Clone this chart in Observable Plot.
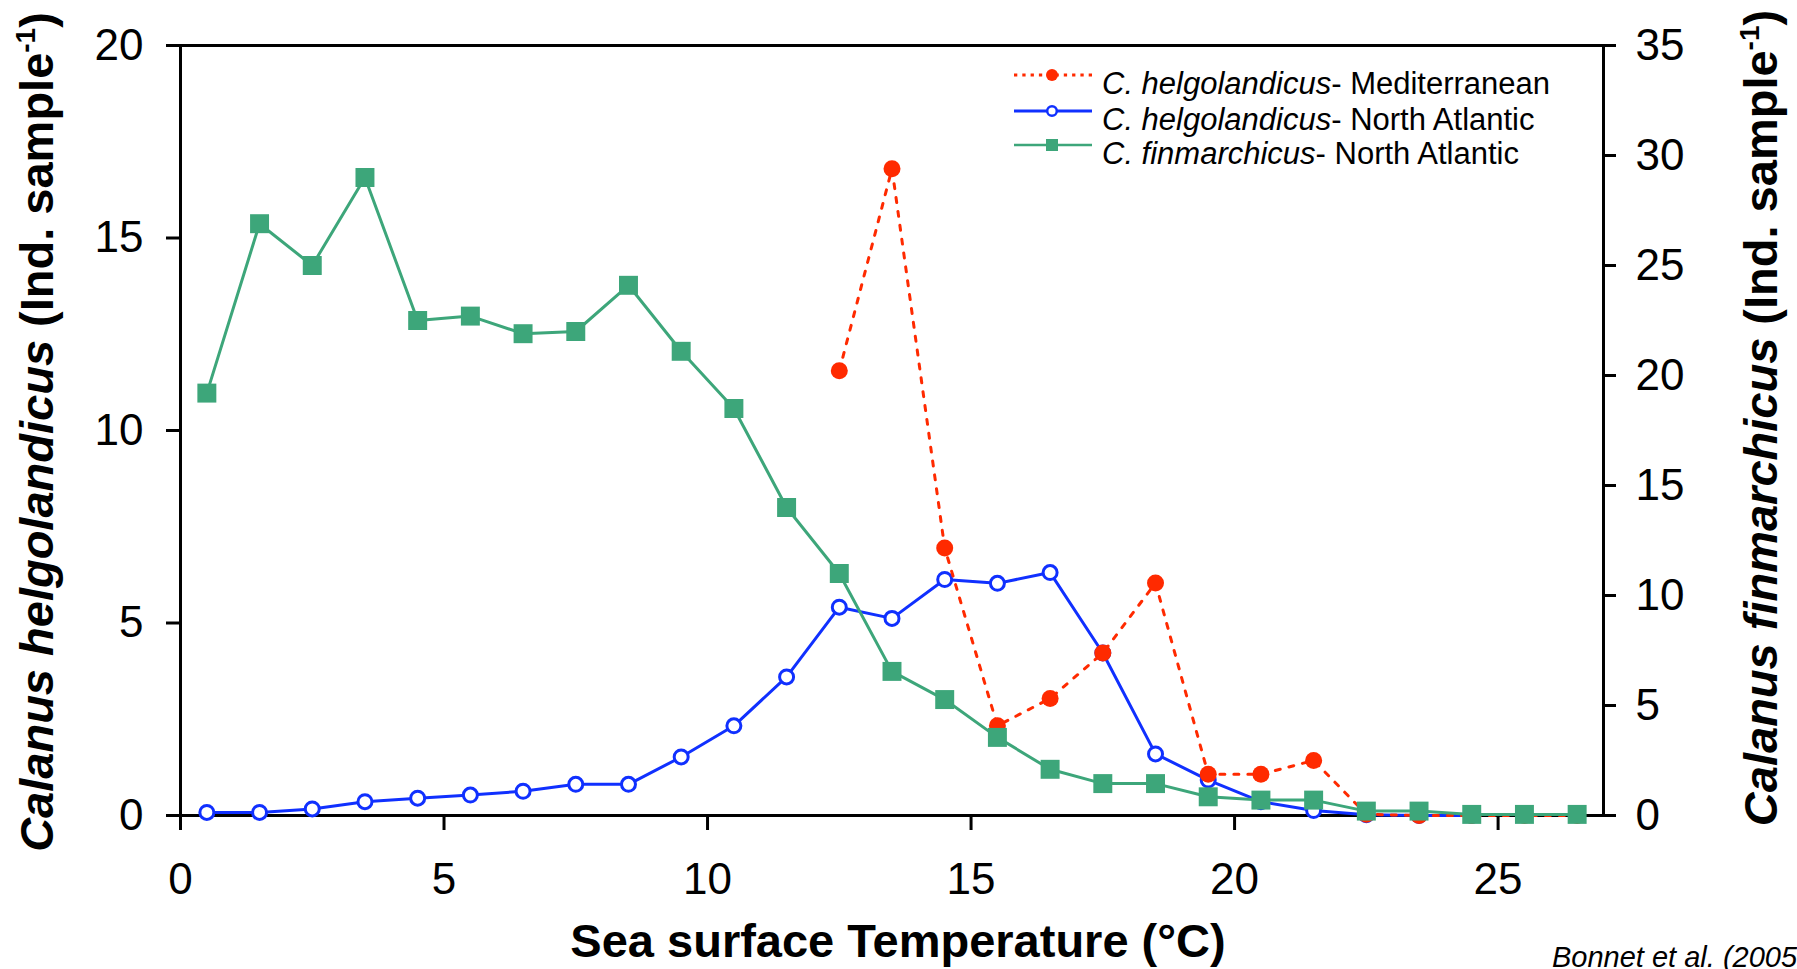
<!DOCTYPE html>
<html>
<head>
<meta charset="utf-8">
<script src="https://cdn.jsdelivr.net/npm/d3@7"></script>
<script src="https://cdn.jsdelivr.net/npm/@observablehq/plot@0.6"></script>
<style>
  html, body { margin: 0; padding: 0; background: #fff; overflow: hidden; }
</style>
</head>
<body>
<div id="chart"></div>
<script>
// Sea surface temperature bins (°C, bin centres)
const temperature = [0.5, 1.5, 2.5, 3.5, 4.5, 5.5, 6.5, 7.5, 8.5, 9.5, 10.5, 11.5, 12.5, 13.5,
  14.5, 15.5, 16.5, 17.5, 18.5, 19.5, 20.5, 21.5, 22.5, 23.5, 24.5, 25.5, 26.5];

// C. finmarchicus – North Atlantic (Ind. sample-1, right axis)
const finmarchicusNA = [19.2, 26.9, 25.0, 29.0, 22.5, 22.7, 21.9, 22.0, 24.1, 21.1, 18.5, 14.0, 11.0, 6.55,
  5.27, 3.55, 2.1, 1.45, 1.45, 0.85, 0.7, 0.7, 0.2, 0.2, 0.05, 0.05, 0.05];

// C. helgolandicus – North Atlantic (Ind. sample-1, left axis)
const helgolandicusNA = [0.08, 0.08, 0.17, 0.36, 0.45, 0.53, 0.63, 0.81, 0.81, 1.52, 2.33, 3.6, 5.41, 5.12,
  6.13, 6.03, 6.31, 4.22, 1.6, 0.92, 0.36, 0.13, 0.02, 0, 0, null, null];

// C. helgolandicus – Mediterranean (Ind. sample-1, left axis)
const helgolandicusMed = [null, null, null, null, null, null, null, null, null, null, null, null, 11.55, 16.8,
  6.95, 2.33, 3.04, 4.22, 6.04, 1.07, 1.07, 1.43, 0.03, 0, 0, 0, 0];

// Axis tick values
const xTicks = [0, 5, 10, 15, 20, 25];
const leftTicks = [0, 5, 10, 15, 20];
const rightTicks = [0, 5, 10, 15, 20, 25, 30, 35];

const RED = "#ff2a00";
const BLUE = "#1030ff";
const GREEN = "#3da67a";

// the right axis (0–35) shares the left y scale (0–20)
const k = 20 / 35;

const rows = temperature.map((t, i) => ({
  t,
  fin: finmarchicusNA[i] * k,
  helNA: helgolandicusNA[i],
  helMed: helgolandicusMed[i]
}));

const plot = Plot.plot({
  width: 1797,
  height: 969,
  marginLeft: 180,
  marginRight: 194,
  marginTop: 45,
  marginBottom: 154,
  style: { fontFamily: "'Liberation Sans', Arial, sans-serif", background: "white", color: "black" },
  x: { domain: [0, 27] },
  y: { domain: [0, 20] },
  marks: [
    Plot.frame({ stroke: "black", strokeWidth: 3 }),
    Plot.axisX(xTicks, { anchor: "bottom", tickSize: 15, tickPadding: 32, strokeWidth: 3, fontSize: 44, label: null, tickFormat: d => String(d) }),
    Plot.axisY(leftTicks, { anchor: "left", tickSize: 14, tickPadding: 23, strokeWidth: 3, fontSize: 44, label: null, tickFormat: d => String(d) }),
    Plot.axisY(rightTicks.map(v => v * k), { anchor: "right", tickSize: 12, tickPadding: 20, strokeWidth: 3, fontSize: 44, label: null, tickFormat: d => String(Math.round(d / k)) }),

    // C. helgolandicus – North Atlantic
    Plot.line(rows, { x: "t", y: "helNA", stroke: BLUE, strokeWidth: 3 }),
    Plot.dot(rows, { x: "t", y: "helNA", r: 7, stroke: BLUE, strokeWidth: 3, fill: "white" }),

    // C. helgolandicus – Mediterranean
    Plot.line(rows, { x: "t", y: "helMed", stroke: RED, strokeWidth: 3, strokeDasharray: "5,9" }),
    Plot.dot(rows, { x: "t", y: "helMed", r: 8.5, fill: RED }),

    // C. finmarchicus – North Atlantic
    Plot.line(rows, { x: "t", y: "fin", stroke: GREEN, strokeWidth: 3 }),
    Plot.dot(rows, { x: "t", y: "fin", symbol: "square", r: 10.7, fill: GREEN })
  ]
});

document.getElementById("chart").appendChild(plot);

const svg = d3.select(plot);
const FONT = "'Liberation Sans', Arial, sans-serif";

// Axis titles
function yTitle(x, y, species) {
  const t = svg.append("text")
    .attr("transform", `translate(${x},${y}) rotate(-90)`)
    .attr("text-anchor", "middle")
    .attr("font-family", FONT)
    .attr("font-weight", "bold")
    .attr("font-size", 47)
    .attr("fill", "black");
  t.append("tspan").attr("font-style", "italic").text(`Calanus ${species}`);
  t.append("tspan").text(" (Ind. sample");
  t.append("tspan").attr("font-size", 28).attr("dy", -18).text("-1");
  t.append("tspan").attr("dy", 18).text(")");
}
yTitle(53, 432, "helgolandicus");
yTitle(1777, 418, "finmarchicus");

svg.append("text")
  .attr("x", 898).attr("y", 957)
  .attr("text-anchor", "middle")
  .attr("font-family", FONT)
  .attr("font-weight", "bold")
  .attr("font-size", 47)
  .text("Sea surface Temperature (°C)");

// Source note, running off the right edge
svg.append("text")
  .attr("x", 1552).attr("y", 967)
  .attr("text-anchor", "start")
  .attr("font-family", FONT)
  .attr("font-style", "italic")
  .attr("font-size", 29)
  .text("Bonnet et al. (2005)");

// Legend
const legendItems = [
  { sp: "C. helgolandicus", area: "- Mediterranean", color: RED, kind: "med" },
  { sp: "C. helgolandicus", area: "- North Atlantic", color: BLUE, kind: "na" },
  { sp: "C. finmarchicus", area: "- North Atlantic", color: GREEN, kind: "fin" }
];
const legendY = [75, 111, 145];
const lg = svg.append("g");
legendItems.forEach((item, i) => {
  const y = legendY[i];
  const line = lg.append("line")
    .attr("x1", 1014).attr("x2", 1092).attr("y1", y).attr("y2", y)
    .attr("stroke", item.color).attr("stroke-width", item.kind === "fin" ? 2.5 : 3);
  if (item.kind === "med") {
    line.attr("stroke-dasharray", "3.3,5");
    lg.append("circle").attr("cx", 1052).attr("cy", y).attr("r", 6).attr("fill", item.color);
  } else if (item.kind === "na") {
    lg.append("circle").attr("cx", 1052).attr("cy", y).attr("r", 4.8)
      .attr("fill", "white").attr("stroke", item.color).attr("stroke-width", 2.5);
  } else {
    lg.append("rect").attr("x", 1046).attr("y", y - 6).attr("width", 12).attr("height", 12).attr("fill", item.color);
  }
  const t = lg.append("text")
    .attr("x", 1102).attr("y", y + 19)
    .attr("text-anchor", "start")
    .attr("font-family", FONT)
    .attr("font-size", 31)
    .attr("fill", "black");
  t.append("tspan").attr("font-style", "italic").text(item.sp);
  t.append("tspan").text(item.area);
});
</script>
</body>
</html>
